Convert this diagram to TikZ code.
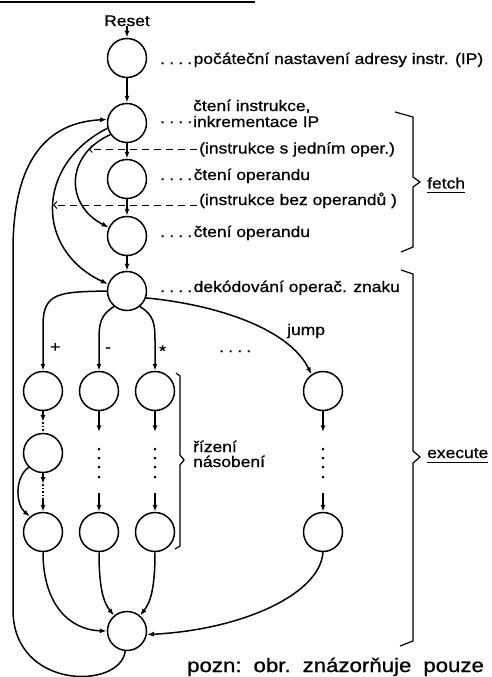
\documentclass[tikz,border=0pt]{standalone}
\usepackage{fontspec}
\setmainfont{Liberation Sans}[FakeStretch=1.14,FakeBold=0.8]
\usetikzlibrary{arrows.meta}
\newcommand{\lddots}{.\hspace{4.2pt}.\hspace{4.2pt}.\hspace{4.2pt}.}
\begin{document}
\begin{tikzpicture}[x=1pt,y=-1pt,
  st/.style={circle, draw, line width=1.5pt, minimum size=39pt, inner sep=0pt},
  arr/.style={line width=1.5pt, -{Latex[length=7pt,width=5pt]}},
  dsh/.style={line width=1pt, dash pattern=on 7pt off 5pt, -{Straight Barb[length=3pt,width=7pt]}},
  lbl/.style={anchor=base west, inner sep=0pt, font=\fontsize{15.3}{16}\selectfont},
  brace/.style={line width=1.2pt, line join=miter},
  dotline/.style={line width=1.5pt, dash pattern=on 1.5pt off 2pt}]
\useasboundingbox (0,0) rectangle (491,677);
\draw[line width=2pt] (0,2) -- (255,2);

% states
\node[lbl, anchor=base] (reset) at (127,26) {Reset};
\node[st] (c1) at (127,58) {};
\node[st] (c2) at (127,123) {};
\node[st] (c3) at (127,179) {};
\node[st] (c4) at (127,236) {};
\node[st] (c5) at (127,291) {};
\node[st] (a1) at (43,391) {};
\node[st] (a2) at (99,391) {};
\node[st] (a3) at (155,391) {};
\node[st] (a4) at (323,391) {};
\node[st] (b1) at (43,453) {};
\node[st] (e1) at (43,532) {};
\node[st] (e2) at (99,532) {};
\node[st] (e3) at (155,532) {};
\node[st] (e4) at (323,532) {};
\node[st] (f) at (127,631) {};

% labels
\node[lbl] (l1) at (160,64) {\lddots\hspace{1.5pt}počáteční nastavení adresy instr. (IP)};
\node[lbl] (l2a) at (193,111) {čtení instrukce,};
\node[lbl] (l2b) at (193,127) {inkrementace IP};
\node[lbl] (l2d) at (160,123) {\lddots};
\node[lbl] (l3) at (160,180) {\lddots\hspace{1.5pt}čtení operandu};
\node[lbl] (l4) at (160,237) {\lddots\hspace{1.5pt}čtení operandu};
\node[lbl] (l5) at (160,292) {\lddots\hspace{1.5pt}dekódování operač. znaku};
\node[lbl] (t1) at (199,153.5) {(instrukce s jedním oper.)};
\node[lbl] (t2) at (199,205) {(instrukce bez operandů )};
\node[lbl] (plus) at (50,352) {+};
\node[lbl] (minus) at (105,352) {-};
\node[lbl] (mul) at (159,356) {*};
\node[lbl] (more) at (219,352) {\lddots};
\node[lbl] (jump) at (287,335) {jump};
\node[lbl] (riz1) at (193,452) {řízení};
\node[lbl] (riz2) at (193,467) {násobení};
\node[lbl] (fetchl) at (427,188.5) {fetch};
\node[lbl] (execl) at (427,458) {execute};
\draw[line width=1pt] ([yshift=-4pt]fetchl.base west) -- ([yshift=-4pt]fetchl.base east);
\draw[line width=1pt] ([yshift=-4pt]execl.base west) -- ([yshift=-4pt]execl.base east);
\node[lbl, font=\fontsize{19.5}{20}\selectfont] (note) at (187,672)
  {pozn:\hspace{12pt}obr.\hspace{12pt}znázorňuje\hspace{12pt}pouze};

% main chain
\draw[arr] (reset.south) -- (c1.north);
\draw[arr] (c1.south) -- (c2.north);
\draw[arr] (c2.south) -- (c3.north);
\draw[arr] (c3.south) -- (c4.north);
\draw[arr] (c4.south) -- (c5.north);

% skips
\draw[arr] (c2.215) .. controls (65,155) and (65,205) .. (c4.155) coordinate[pos=0.2] (d1);
\draw[arr] (c2.195) .. controls (35,165) and (35,250) .. (c5.160) coordinate[pos=0.5] (d2);
\coordinate (t1s) at (197,149);
\coordinate (t2s) at (197,205);
\draw[dsh] (t1s) -- (t1s -| d1);
\draw[dsh] (t2s) -- (t2s -| d2);

% return loop
\draw[arr] (f.265) .. controls (120,690) and (13,690) .. (13,610) -- (13,250)
  .. controls (13,150) and (55,122) .. (c2.170);

% decode branches
\draw[arr] (c5.west) .. controls (60,292) and (43,292) .. (43,325) -- (a1.north);
\draw[arr] (c5.230) .. controls (101,315) and (99,322) .. (99,340) -- (a2.north);
\draw[arr] (c5.310) .. controls (153,315) and (155,322) .. (155,340) -- (a3.north);
\draw[arr] (c5.-20) .. controls (220,305) and (290,330) .. (a4.125);

% column 1
\coordinate (k1) at (43,422);
\coordinate (k2) at (43,484);
\coordinate (k3) at (43,500);
\draw[arr] (a1.south) -- (k1);
\draw[dotline] (k1) -- (b1.north);
\draw[arr] (b1.south) -- (k2);
\draw[dotline] (k2) -- (k3);
\draw[arr] (k3) -- (e1.north);
\draw[arr] (b1.225) .. controls (14,478) and (16,505) .. (e1.130);

% columns 2-4
\foreach \n in {2,3,4}{
  \draw[arr] (a\n.south) -- ++(0,21) coordinate (s\n);
  \foreach \yy in {449,458,467,477} \fill (a\n |- 0,\yy) circle (1.5pt);
  \coordinate (u\n) at (a\n |- 0,493);
  \draw[arr] (u\n) -- (e\n.north);
}

% to final state
\draw[arr] (e1.south) .. controls (43,605) and (70,630) .. (f.west);
\draw[arr] (e2.south) .. controls (99,590) and (104,603) .. (f.130);
\draw[arr] (e3.south) .. controls (155,590) and (150,603) .. (f.50);
\draw[arr] (e4.south) .. controls (320,595) and (240,630) .. (f.-10);

% braces
\draw[brace] (395,112) -- (413,117) -- (413,177) -- (420,182) -- (413,187) -- (413,247) -- (401,252);
\draw[brace] (401,270) -- (413,274) -- (413,451) -- (420,457) -- (413,463) -- (413,641) -- (400,646);
\draw[brace] (176,373) -- (180,376) -- (180,455) -- (184,460) -- (180,465) -- (180,546) -- (175,549);
\end{tikzpicture}
\end{document}
